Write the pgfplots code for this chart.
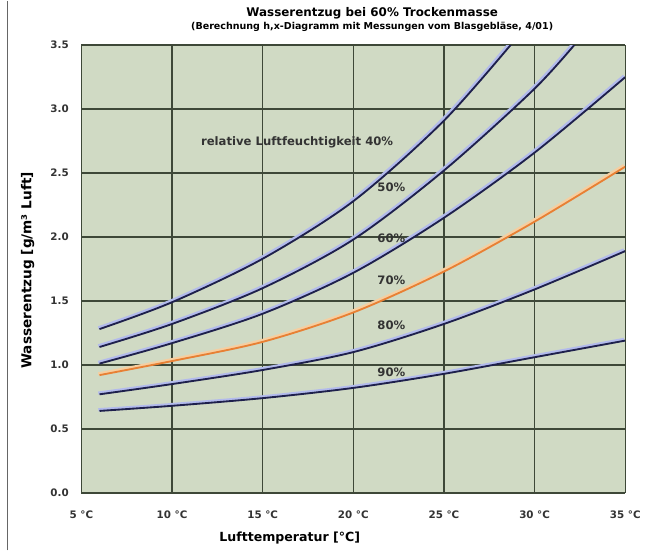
\documentclass[border=0pt]{standalone}
\usepackage{fontspec}
\setmainfont{DejaVu Sans}
\usepackage{pgfplots}
\pgfplotsset{compat=1.18}
\definecolor{bgsage}{RGB}{208,218,196}
\definecolor{gridc}{RGB}{62,72,56}
\definecolor{navy}{RGB}{30,32,76}
\definecolor{halo}{RGB}{178,186,236}
\definecolor{orangec}{RGB}{232,128,52}
\definecolor{orangehalo}{RGB}{246,206,160}
\begin{document}
\begin{tikzpicture}
\begin{axis}[
  at={(0,0)}, anchor=south west,
  scale only axis, width=411pt, height=338.25pt,
  xmin=5, xmax=35, ymin=0, ymax=3.5,
  xtick={5,10,...,35},
  xticklabels={5 °C,10 °C,15 °C,20 °C,25 °C,30 °C,35 °C},
  ytick={0,0.5,...,3.5},
  yticklabel style={/pgf/number format/fixed, /pgf/number format/fixed zerofill, /pgf/number format/precision=1},
  /pgf/number format/assume math mode=true,
  ticklabel style={font=\fontsize{7.8}{9}\selectfont\bfseries, text=black!80},
  xticklabel style={yshift=-10pt},
  yticklabel style={xshift=-6pt},
  major tick length=0pt,
  grid=major,
  major grid style={gridc, line width=1.1pt},
  axis line style={draw=none},
  axis background/.style={fill=bgsage},
]
\addplot[halo, line width=2.4pt, smooth, xshift=-0.9pt, yshift=0.9pt] coordinates {(6,1.28)(10,1.49)(15,1.83)(20,2.28)(25,2.91)(29.2,3.59)};
\addplot[navy, line width=1.4pt, smooth] coordinates {(6,1.28)(10,1.49)(15,1.83)(20,2.28)(25,2.91)(29.2,3.59)};
\addplot[halo, line width=2.4pt, smooth, xshift=-0.9pt, yshift=0.9pt] coordinates {(6,1.14)(10,1.32)(15,1.60)(20,1.98)(25,2.52)(30,3.16)(32.6,3.57)};
\addplot[navy, line width=1.4pt, smooth] coordinates {(6,1.14)(10,1.32)(15,1.60)(20,1.98)(25,2.52)(30,3.16)(32.6,3.57)};
\addplot[halo, line width=2.4pt, smooth, xshift=-0.9pt, yshift=0.9pt] coordinates {(6,1.01)(10,1.17)(15,1.40)(20,1.72)(25,2.15)(30,2.66)(35,3.25)};
\addplot[navy, line width=1.4pt, smooth] coordinates {(6,1.01)(10,1.17)(15,1.40)(20,1.72)(25,2.15)(30,2.66)(35,3.25)};
\addplot[orangehalo, line width=2.4pt, smooth, xshift=-0.9pt, yshift=0.9pt] coordinates {(6,0.92)(10,1.03)(15,1.18)(20,1.41)(25,1.73)(30,2.12)(35,2.55)};
\addplot[orangec, line width=1.4pt, smooth] coordinates {(6,0.92)(10,1.03)(15,1.18)(20,1.41)(25,1.73)(30,2.12)(35,2.55)};
\addplot[halo, line width=2.4pt, smooth, xshift=-0.9pt, yshift=0.9pt] coordinates {(6,0.77)(10,0.85)(15,0.96)(20,1.10)(25,1.32)(30,1.59)(35,1.89)};
\addplot[navy, line width=1.4pt, smooth] coordinates {(6,0.77)(10,0.85)(15,0.96)(20,1.10)(25,1.32)(30,1.59)(35,1.89)};
\addplot[halo, line width=2.4pt, smooth, xshift=-0.9pt, yshift=0.9pt] coordinates {(6,0.64)(10,0.68)(15,0.74)(20,0.82)(25,0.93)(30,1.06)(35,1.19)};
\addplot[navy, line width=1.4pt, smooth] coordinates {(6,0.64)(10,0.68)(15,0.74)(20,0.82)(25,0.93)(30,1.06)(35,1.19)};
\begin{scope}[every node/.style={font=\fontsize{8.8}{10}\selectfont\bfseries, text=black!80}]
\node at (axis cs:16.9,2.74) {relative Luftfeuchtigkeit 40\%};
\node at (axis cs:22.1,2.39) {50\%};
\node at (axis cs:22.1,1.99) {60\%};
\node at (axis cs:22.1,1.66) {70\%};
\node at (axis cs:22.1,1.31) {80\%};
\node at (axis cs:22.1,0.94) {90\%};
\end{scope}
\end{axis}
\node[font=\fontsize{9}{10}\selectfont\bfseries] at (219.75pt,362.25pt) {Wasserentzug bei 60\% Trockenmasse};
\node[font=\fontsize{7.2}{8}\selectfont\bfseries] at (219.75pt,352.2pt) {(Berechnung h,x-Diagramm mit Messungen vom Blasgebläse, 4/01)};
\node[font=\fontsize{9.5}{10}\selectfont\bfseries] at (157.5pt,-34.5pt) {Lufttemperatur [°C]};
\node[font=\fontsize{10.3}{11}\selectfont\bfseries, rotate=90] at (-40.5pt,168pt) {Wasserentzug [g/m³ Luft]};
\draw[black!60, line width=0.8pt] (-55.5pt,-43.5pt) -- (-55.5pt,372pt);
\path[use as bounding box] (-61.5pt,-43.5pt) rectangle (422.25pt,372pt);
\end{tikzpicture}
\end{document}
